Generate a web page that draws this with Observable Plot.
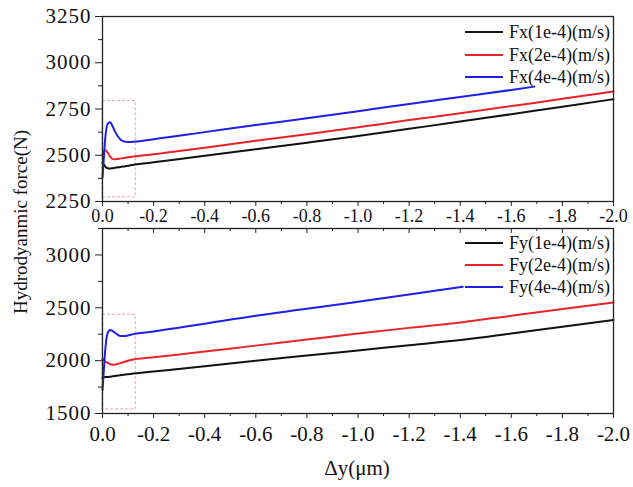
<!DOCTYPE html>
<html>
<head>
<meta charset="utf-8">
<script src="https://cdn.jsdelivr.net/npm/d3@7"></script>
<script src="https://cdn.jsdelivr.net/npm/@observablehq/plot@0.6"></script>
<style>
  body { margin: 0; background: #fff; }
  #wrap { position: relative; width: 633px; height: 487px; font-family: "Liberation Serif", "Times New Roman", serif; color: #111; }
  .abs { position: absolute; }
  .ytitle { left: 21px; top: 222px; transform: translate(-50%, -50%) rotate(-90deg); font-size: 19px; white-space: nowrap; }
  .xtitle { left: 357px; top: 468px; transform: translate(-50%, -50%); font-size: 21px; white-space: nowrap; }
  .leg { display: flex; align-items: center; font-size: 18px; white-space: nowrap; }
  .leg span.l { display: inline-block; width: 38px; height: 2px; margin-right: 6px; }
</style>
</head>
<body>
<div id="wrap"></div>
<script>
// ---- data ----
const xTicksMajor = [0, -0.2, -0.4, -0.6, -0.8, -1.0, -1.2, -1.4, -1.6, -1.8, -2.0];
const xTicksMinor = [-0.1, -0.3, -0.5, -0.7, -0.9, -1.1, -1.3, -1.5, -1.7, -1.9];

const fxTicksMajor = [2250, 2500, 2750, 3000, 3250];
const fxTicksMinor = [2375, 2625, 2875, 3125];
const fyTicksMajor = [1500, 2000, 2500, 3000];
const fyTicksMinor = [1750, 2250, 2750, 3250];

const seriesColors = ["#111111", "#e8242a", "#1f1fe6"];
const fxLabels = ["Fx(1e-4)(m/s)", "Fx(2e-4)(m/s)", "Fx(4e-4)(m/s)"];
const fyLabels = ["Fy(1e-4)(m/s)", "Fy(2e-4)(m/s)", "Fy(4e-4)(m/s)"];

const xsFx = [0, -0.005, -0.01, -0.02, -0.03, -0.04, -0.05, -0.07, -0.09, -0.11, -0.2, -0.4, -0.6, -0.8, -1.0, -1.2, -1.4, -1.6, -1.69, -1.8, -2.0];
const fx1 = [2460, 2450, 2440, 2430, 2428, 2430, 2432, 2437, 2441, 2446, 2462, 2497, 2533, 2568, 2604, 2643, 2682, 2722, 2740, 2762, 2803];
const fx2 = [2500, 2520, 2527, 2515, 2492, 2479, 2478, 2482, 2487, 2491, 2505, 2541, 2578, 2614, 2651, 2690, 2727, 2766, 2783, 2805, 2844];
const fx4 = [2380, 2480, 2580, 2670, 2678, 2655, 2625, 2585, 2573, 2572, 2587, 2625, 2663, 2700, 2738, 2777, 2815, 2853, 2871, null, null];

const xsFy = [0, -0.005, -0.01, -0.02, -0.03, -0.04, -0.05, -0.07, -0.09, -0.11, -0.2, -0.4, -0.6, -0.8, -1.0, -1.2, -1.41, -1.6, -1.8, -2.0];
const fy1 = [1840, 1843, 1845, 1846, 1848, 1852, 1855, 1862, 1868, 1874, 1897, 1948, 2000, 2048, 2097, 2146, 2197, 2257, 2321, 2385];
const fy2 = [2015, 2005, 1995, 1978, 1966, 1962, 1964, 1976, 1992, 2006, 2031, 2087, 2142, 2199, 2256, 2310, 2364, 2425, 2488, 2550];
const fy4 = [1720, 1900, 2080, 2260, 2290, 2280, 2262, 2232, 2234, 2245, 2275, 2350, 2425, 2490, 2557, 2625, 2698, null, null, null];

// dashed zoom boxes [x1, x2, y1, y2]
const fxBox = [0, -0.13, 2272, 2793];
const fyBox = [0, -0.13, 1538, 2434];

// ---- drawing ----
const wrap = document.getElementById("wrap");
const FONT = "'Liberation Serif', 'Times New Roman', serif";

function rows(xs, ys) {
  return xs.map((x, i) => ({x, y: ys[i]})).filter(d => d.y != null);
}

function panel({height, marginTop, marginBottom, yDomain, yMajor, yMinor, xs, ys, box, topTicks, xFont}) {
  const frameH = height - marginTop - marginBottom;
  const marks = [
    Plot.rect([box], {x1: d => d[0], x2: d => d[1], y1: d => d[2], y2: d => d[3], fill: "none", stroke: "#e6a3ab", strokeWidth: 1, strokeDasharray: "3,2"}),
    ...ys.map((y, i) => Plot.line(rows(xs, y), {x: "x", y: "y", stroke: seriesColors[i], strokeWidth: 2, curve: "monotone-x"})),
    Plot.frame({stroke: "#222", strokeWidth: 1.3}),
    Plot.axisY({ticks: yMajor, tickSize: 7, tickPadding: 4, tickFormat: d => String(d), label: null, stroke: "#222", fill: "#111", ariaLabel: "ymaj"}),
    Plot.axisY({ticks: yMinor, tickSize: 4, tickFormat: () => "", label: null, stroke: "#222"}),
    Plot.axisX({ticks: xTicksMajor, tickSize: 5, tickPadding: xFont > 19 ? 8 : 3, tickFormat: d => d.toFixed(1), label: null, stroke: "#222", fill: "#111", ariaLabel: "xmaj"}),
    Plot.axisX({ticks: xTicksMinor, tickSize: 3, tickFormat: () => "", label: null, stroke: "#222"})
  ];
  if (topTicks) {
    marks.push(Plot.tickX(xTicksMajor, {x: d => d, insetBottom: frameH - 5, stroke: "#222"}));
    marks.push(Plot.tickX(xTicksMinor, {x: d => d, insetBottom: frameH - 3, stroke: "#222"}));
  }
  const svg = Plot.plot({
    width: 633, height, marginTop, marginBottom, marginLeft: 102, marginRight: 20,
    x: {domain: [0, -2]},
    y: {domain: yDomain},
    style: {background: "transparent", overflow: "visible"},
    marks
  });
  svg.querySelectorAll("text").forEach(t => { t.style.fontFamily = FONT; t.style.fill = "#111"; });
  svg.querySelectorAll("g[aria-label^='ymaj'] text").forEach(t => {
    t.style.fontSize = "21px";
    t.style.letterSpacing = "1px";
  });
  svg.querySelectorAll("g[aria-label^='xmaj'] text").forEach(t => { t.style.fontSize = xFont + "px"; });
  return svg;
}

const chartTop = panel({height: 226, marginTop: 16, marginBottom: 25, yDomain: [2250, 3250], yMajor: fxTicksMajor, yMinor: fxTicksMinor, xs: xsFx, ys: [fx1, fx2, fx4], box: fxBox, topTicks: false, xFont: 18});
const chartBot = panel({height: 261, marginTop: 2, marginBottom: 74, yDomain: [1500, 3250], yMajor: fyTicksMajor, yMinor: fyTicksMinor, xs: xsFy, ys: [fy1, fy2, fy4], box: fyBox, topTicks: true, xFont: 21});

const d1 = document.createElement("div"); d1.className = "abs"; d1.style.left = "0px"; d1.style.top = "0px"; d1.appendChild(chartTop); wrap.appendChild(d1);
const d2 = document.createElement("div"); d2.className = "abs"; d2.style.left = "0px"; d2.style.top = "226px"; d2.appendChild(chartBot); wrap.appendChild(d2);

function legend(labels, ys) {
  labels.forEach((t, i) => {
    const row = document.createElement("div");
    row.className = "abs leg";
    row.style.left = "465px";
    row.style.top = (ys[i] - 11) + "px";
    row.style.height = "22px";
    const l = document.createElement("span");
    l.className = "l"; l.style.background = seriesColors[i];
    row.appendChild(l);
    const s = document.createElement("span");
    s.textContent = t;
    row.appendChild(s);
    wrap.appendChild(row);
  });
}
legend(fxLabels, [32, 55, 77]);
legend(fyLabels, [243, 265, 287]);

const yt = document.createElement("div"); yt.className = "abs ytitle"; yt.textContent = "Hydrodyanmic force(N)"; wrap.appendChild(yt);
const xt = document.createElement("div"); xt.className = "abs xtitle"; xt.textContent = "Δy(μm)"; wrap.appendChild(xt);
</script>
</body>
</html>
